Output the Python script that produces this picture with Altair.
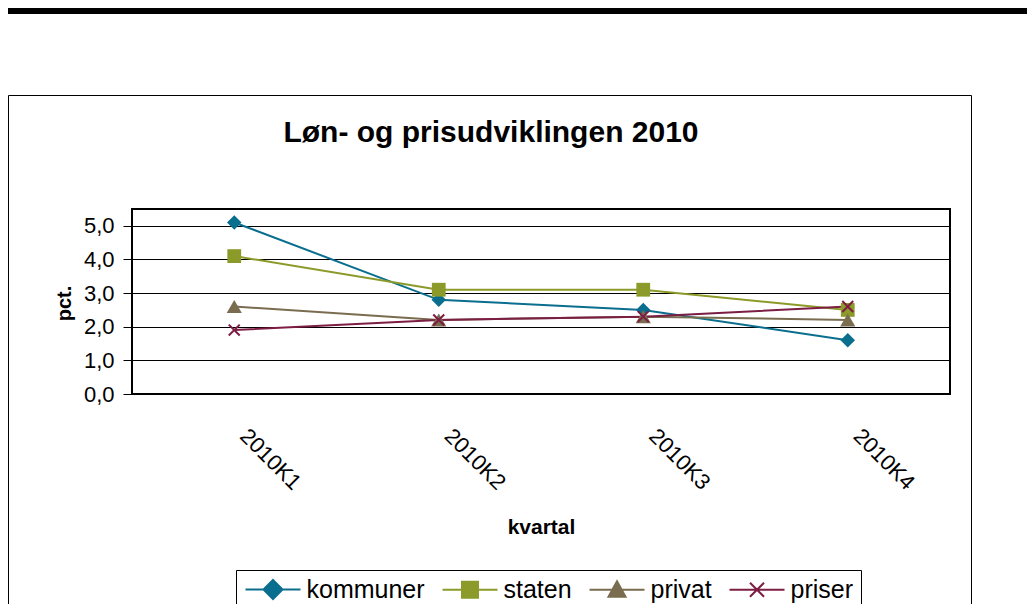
import altair as alt
import pandas as pd

# ---- data ----
quarters = ["2010K1", "2010K2", "2010K3", "2010K4"]
series_names = ["kommuner", "staten", "privat", "priser"]
kommuner = [5.1, 2.8, 2.5, 1.6]
staten = [4.1, 3.1, 3.1, 2.5]
privat = [2.6, 2.2, 2.3, 2.2]
priser = [1.9, 2.2, 2.3, 2.6]
y_ticks = [0, 1, 2, 3, 4, 5]
title_text = "Løn- og prisudviklingen 2010"
y_title = "pct."
x_title = "kvartal"

# ---- styles ----
colors = ["#0a6e8e", "#8c9a2a", "#7a6c4f", "#7c1d43"]
FONT = "Liberation Sans"

rows = []
for name, vals in zip(series_names, [kommuner, staten, privat, priser]):
    for q, v in zip(quarters, vals):
        rows.append({"kvartal": q, "serie": name, "pct": v})
df = pd.DataFrame(rows)

W, H = 818, 185
PAD_L, PAD_T = 124, 201
PAD_R = 1019 - PAD_L - W
PAD_B = 596 - PAD_T - H

x_enc = alt.X(
    "kvartal:N",
    sort=quarters,
    scale=alt.Scale(domain=quarters, padding=0.5),
    axis=alt.Axis(
        title=x_title, labelAngle=45, labelAlign="left", labelBaseline="middle",
        labelPadding=38, labelOffset=9, ticks=False, domain=False, grid=False,
        labelFontSize=22, labelColor="black", labelFont=FONT,
        titleFontSize=21, titleFontWeight="bold", titleFont=FONT, titleColor="black",
        titleY=133, titleBaseline="middle", titleAlign="center",
    ),
)
y_enc = alt.Y(
    "pct:Q",
    scale=alt.Scale(domain=[0, 5.5], nice=False, zero=True),
    axis=alt.Axis(
        values=y_ticks,
        labelExpr="replace(format(datum.value, '.1f'), '.', ',')",
        title=y_title, domain=False, grid=True, gridColor="black", gridWidth=1, gridOpacity=1,
        ticks=True, tickColor="black", tickSize=9, tickWidth=1, labelPadding=9,
        labelFontSize=22, labelColor="black", labelFont=FONT,
        titleFontSize=20, titleFontWeight="bold", titleFont=FONT, titleColor="black",
        titleX=-68, titleY=94, titleBaseline="middle", titleAlign="center", titleAngle=270,
    ),
)

# decorations
topbar = alt.Chart(pd.DataFrame({"b": [0]})).mark_rect(color="black").encode(
    x=alt.value(-PAD_L), x2=alt.value(1019 - PAD_L), y=alt.value(-PAD_T), y2=alt.value(-195)
)
frame = alt.Chart(pd.DataFrame({"f": [0]})).mark_rect(
    fillOpacity=0, stroke="black", strokeWidth=1
).encode(x=alt.value(-123.5), x2=alt.value(839.5), y=alt.value(-113.5), y2=alt.value(420))

marker_specs = {
    "kommuner": dict(shape="diamond", filled=True, size=210),
    "staten": dict(shape="square", filled=True, size=190),
    "privat": dict(shape="triangle-up", filled=True, size=230),
    "priser": dict(shape="M-1,-1L1,1M-1,1L1,-1", filled=False, size=120, strokeWidth=2),
}
series_layers = []
for name, col in zip(series_names, colors):
    base = alt.Chart(df).transform_filter(alt.datum.serie == name)
    series_layers.append(
        base.mark_line(strokeWidth=2, color=col).encode(x=x_enc, y=y_enc)
    )
for name, col in zip(series_names, colors):
    base = alt.Chart(df).transform_filter(alt.datum.serie == name)
    series_layers.append(
        base.mark_point(opacity=1, color=col, **marker_specs[name]).encode(x=x_enc, y=y_enc)
    )

# legend symbols: nominal size 20px (unit = 10px); a 55px line plus the marker
legend_shapes = [
    "M-2.75,0L2.75,0M0,-0.95L0.95,0L0,0.95L-0.95,0Z",
    "M-2.75,0L2.75,0M-0.8,-0.8L0.8,-0.8L0.8,0.8L-0.8,0.8Z",
    "M-2.75,0L2.75,0M0,-0.85L0.85,0.7L-0.85,0.7Z",
    "M-2.75,0L2.75,0M-0.7,-0.7L0.7,0.7M-0.7,0.7L0.7,-0.7",
]


def make_legend():
    return alt.Legend(
        title=None, orient="none", legendX=104, legendY=361, direction="horizontal",
        symbolSize=400, symbolOffset=17.5, symbolStrokeWidth=2, symbolOpacity=1,
        symbolFillColor="white", symbolStrokeColor="black",
        labelFontSize=25, labelFont=FONT, labelColor="black", labelOffset=21,
        columnPadding=13, padding=7, strokeColor="black", fillColor="white",
    )


legend_layer = (
    alt.Chart(df).transform_filter("false")
    .mark_point(filled=True, strokeWidth=2, opacity=1)
    .encode(
        x=x_enc, y=y_enc,
        shape=alt.Shape("serie:N", scale=alt.Scale(domain=series_names, range=legend_shapes), legend=make_legend()),
        fill=alt.Fill("serie:N", scale=alt.Scale(domain=series_names, range=colors), legend=make_legend()),
        stroke=alt.Stroke("serie:N", scale=alt.Scale(domain=series_names, range=colors), legend=make_legend()),
    )
)

title_layer = alt.Chart(pd.DataFrame({"t": [title_text]})).mark_text(
    fontSize=30, fontWeight="bold", font=FONT, align="center", baseline="alphabetic", color="black"
).encode(text="t:N", x=alt.value(359), y=alt.value(-67))

chart = alt.layer(topbar, frame, *series_layers, legend_layer, title_layer).properties(
    width=W, height=H,
    padding={"left": PAD_L, "top": PAD_T, "right": PAD_R, "bottom": PAD_B},
    autosize=alt.AutoSizeParams(type="none"),
    background="white",
).configure(font=FONT).configure_view(stroke="black", strokeWidth=2)

chart.save("out.html", embed_options={"renderer": "svg", "actions": False})
